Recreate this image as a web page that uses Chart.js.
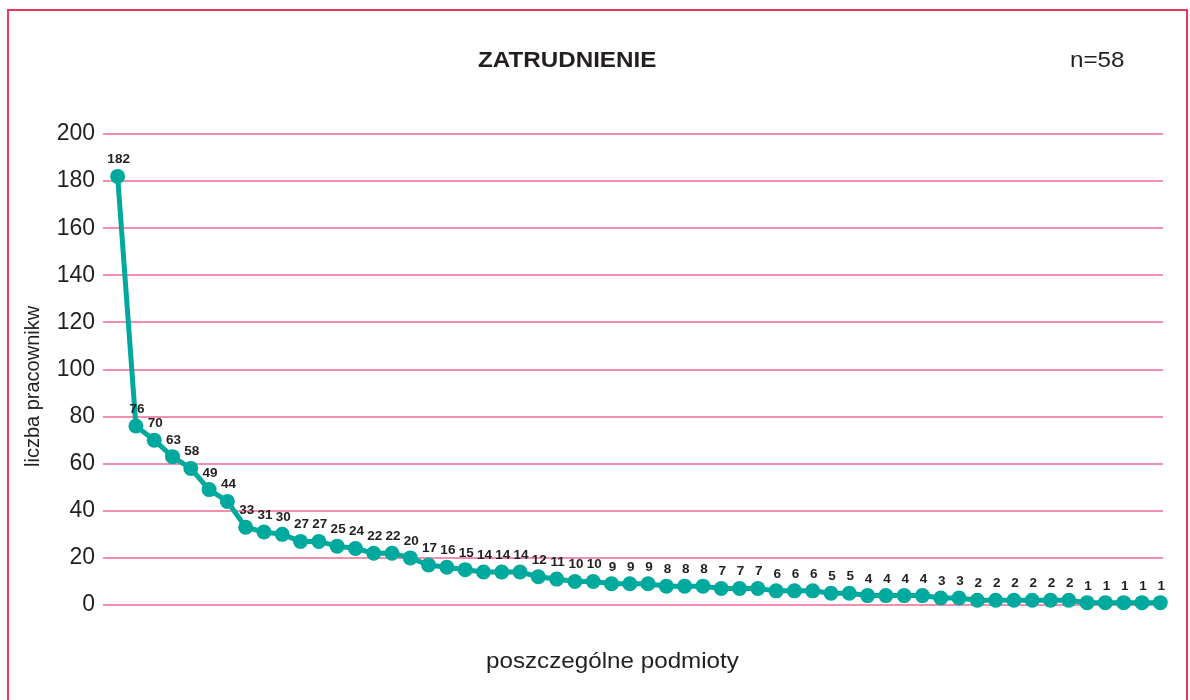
<!DOCTYPE html>
<html>
<head>
<meta charset="utf-8">
<script src="https://cdn.jsdelivr.net/npm/chart.js@4"></script>
<style>
  body { margin: 0; background: #fff; font-family: "Liberation Sans", Arial, sans-serif; color: #231f20; }
  #wrap { position: relative; width: 1190px; height: 700px; overflow: hidden; }
  #frame { position: absolute; left: 7px; top: 9px; width: 1181px; height: 720px;
           border: 2px solid #e8395c; box-sizing: border-box; }
  canvas { position: absolute; left: 0; top: 0; }
  .txt { position: absolute; white-space: nowrap; transform-origin: left top; }
</style>
</head>
<body>
<div id="wrap">
  <div id="frame"></div>
  <canvas id="chart" width="1190" height="700"></canvas>
  <div class="txt" id="title" style="left:478px;top:47px;font-size:22px;font-weight:bold;transform:scaleX(1.1)">ZATRUDNIENIE</div>
  <div class="txt" style="left:1070px;top:47px;font-size:22px;transform:scaleX(1.1)">n=58</div>
  <div class="txt" style="left:486px;top:648px;font-size:22px;transform:scaleX(1.1)">poszczególne podmioty</div>
  <div class="txt" style="left:21px;top:467px;font-size:20px;transform:rotate(-90deg)">liczba pracownikw</div>
</div>
<script>
// employees per entity (n=58)
const employees = [182, 76, 70, 63, 58, 49, 44, 33, 31, 30, 27, 27, 25, 24, 22, 22, 20,
  17, 16, 15, 14, 14, 14, 12, 11, 10, 10, 9, 9, 9, 8, 8, 8, 7, 7, 7, 6, 6, 6, 5, 5,
  4, 4, 4, 4, 3, 3, 2, 2, 2, 2, 2, 2, 1, 1, 1, 1, 1];
const entities = employees.map((v, i) => i + 1);
const yTicks = [0, 20, 40, 60, 80, 100, 120, 140, 160, 180, 200];

const teal = '#00a99d';
const pink = '#f28fac';

// value labels above points
const valueLabels = {
  id: 'valueLabels',
  afterDatasetsDraw(chart) {
    const ctx = chart.ctx;
    const meta = chart.getDatasetMeta(0);
    ctx.save();
    ctx.font = 'bold 13.5px "Liberation Sans", Arial, sans-serif';
    ctx.fillStyle = '#231f20';
    ctx.textAlign = 'center';
    ctx.textBaseline = 'bottom';
    meta.data.forEach((pt, i) => {
      ctx.fillText(String(employees[i]), pt.x + 1, pt.y - 10);
    });
    ctx.restore();
  }
};

new Chart(document.getElementById('chart').getContext('2d'), {
  type: 'line',
  data: {
    datasets: [{
      data: entities.map((e, i) => ({ x: e, y: employees[i] })),
      borderColor: teal,
      backgroundColor: teal,
      borderWidth: 5,
      pointRadius: 7.5,
      pointBorderWidth: 0,
      pointBackgroundColor: teal,
      tension: 0,
      clip: false,
    }],
  },
  options: {
    responsive: false,
    animation: false,
    events: [],
    layout: { padding: { top: 134, bottom: 95, left: 0, right: 27 } },
    plugins: { legend: { display: false }, tooltip: { enabled: false } },
    scales: {
      x: {
        type: 'linear',
        display: false,
        min: 0.2,
        max: 58.15,
      },
      y: {
        min: 0,
        max: 200,
        afterFit(scale) { scale.width = 103; },
        afterBuildTicks(scale) { scale.ticks = yTicks.map(v => ({ value: v })); },
        border: { display: false },
        grid: { color: pink, lineWidth: 2, drawTicks: false },
        ticks: {
          padding: 8,
          color: '#231f20',
          font: { family: '"Liberation Sans", Arial, sans-serif', size: 23 },
        },
      },
    },
  },
  plugins: [valueLabels],
});
</script>
</body>
</html>
